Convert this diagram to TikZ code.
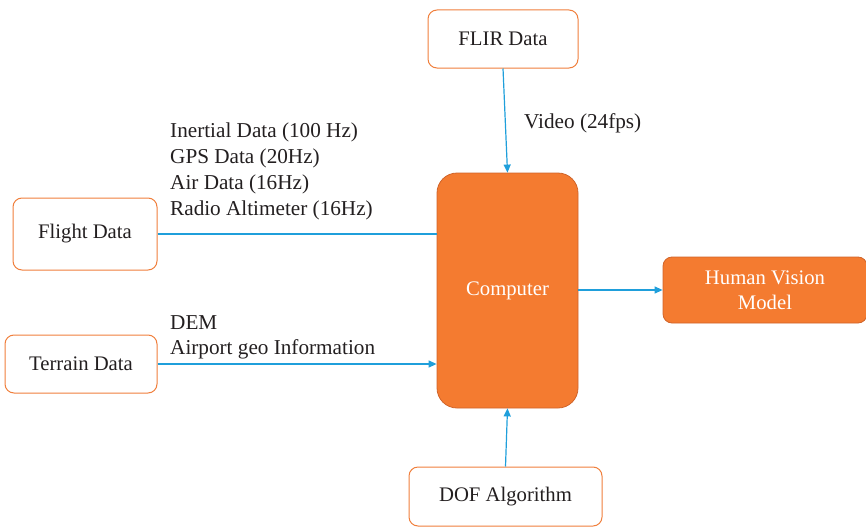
\documentclass[tikz,border=0pt]{standalone}
\usepackage{fontspec}
\setmainfont{Liberation Serif}
\usetikzlibrary{arrows.meta}
\definecolor{boxline}{HTML}{F07F3C}
\definecolor{boxfill}{HTML}{F47B30}
\definecolor{boxedge}{HTML}{D0642A}
\definecolor{wire}{HTML}{1F9FDB}
\definecolor{ink}{HTML}{231F20}
\tikzset{
  inbox/.style={draw=boxline, line width=1pt, fill=white, rounded corners=9pt,
    text=ink, font=\fontsize{20.7}{25}\selectfont, inner sep=0pt},
  corebox/.style={draw=boxedge, line width=0.8pt, fill=boxfill, rounded corners=20pt,
    text=white, font=\fontsize{20.7}{25}\selectfont, inner sep=0pt, align=center},
  outbox/.style={draw=boxedge, line width=0.8pt, fill=boxfill, rounded corners=9pt,
    text=white, font=\fontsize{20.7}{25}\selectfont, inner sep=0pt, align=center},
  wire/.style={draw=wire, line width=1.2pt},
  feed/.style={wire, -{Triangle[length=8pt,width=7pt]}},
  lbl/.style={text=ink, font=\fontsize{21.2}{25.7}\selectfont, inner sep=0pt, align=left}
}
\begin{document}
\begin{tikzpicture}[x=1pt,y=-1pt]
\useasboundingbox (0,0) rectangle (866,527);
% sources
\node[inbox, minimum width=150pt, minimum height=58pt] (flir) at (503,39) {FLIR Data};
\node[inbox, minimum width=144pt, minimum height=72pt] (flight) at (85,234) {Flight Data};
\node[inbox, minimum width=152pt, minimum height=58pt] (terrain) at (81,364) {Terrain Data};
\node[inbox, minimum width=193pt, minimum height=59pt] (dof) at (505.5,496.5) {DOF Algorithm};
% processing and output
\node[corebox, minimum width=141pt, minimum height=235pt] (comp) at (507.5,290.5) {Computer};
\node[outbox, minimum width=204pt, minimum height=66pt] (hvm) at (765,290) {Human Vision\\Model};
% connections
\draw[feed] (flir.south) -- (comp.north);
\draw[wire] (flight.east) -- (flight.east -| comp.west);
\draw[feed] (terrain.east) -- (terrain.east -| comp.west);
\draw[feed] (dof.north) -- (comp.south);
\draw[feed] (comp.east |- hvm.west) -- (hvm.west);
% connection labels
\node[lbl, anchor=north west] (flightlbl) at (170,123) {Inertial Data (100 Hz)\\GPS Data (20Hz)\\Air Data (16Hz)\\Radio Altimeter (16Hz)};
\node[lbl, anchor=north west] (terrainlbl) at (170,315) {DEM\\Airport geo Information};
\node[lbl, anchor=west] (videolbl) at (524,123) {Video (24fps)};
\end{tikzpicture}
\end{document}
